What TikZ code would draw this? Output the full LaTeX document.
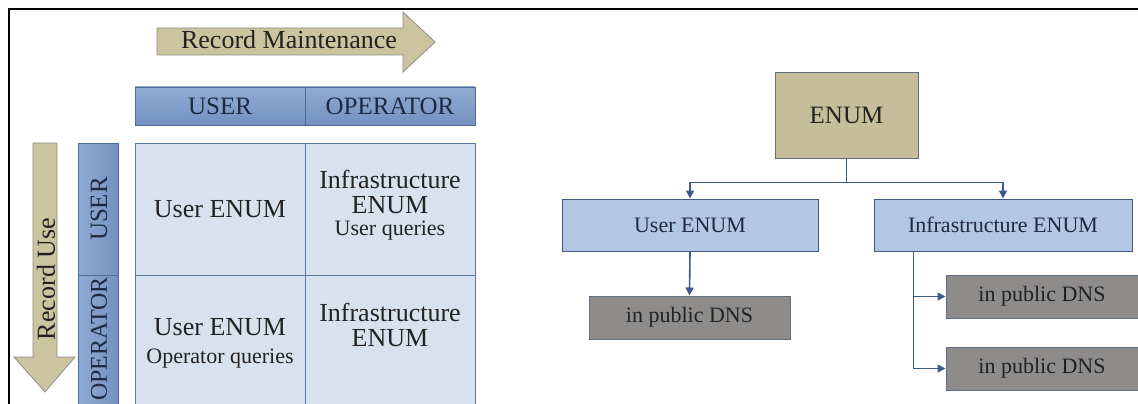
\documentclass[tikz,border=0pt]{standalone}
\usepackage{fontspec}
\setmainfont{Liberation Serif}
\usetikzlibrary{arrows.meta,calc}

\definecolor{tanfill}{HTML}{CCC39F}
\definecolor{tanedge}{HTML}{8C8C8C}
\definecolor{enumfill}{HTML}{C6BE9A}
\definecolor{hdrtop}{HTML}{90ABD3}
\definecolor{hdrbot}{HTML}{7491C0}
\definecolor{hdredge}{HTML}{4E6C98}
\definecolor{cellfill}{HTML}{D8E2EF}
\definecolor{celledge}{HTML}{5B78A3}
\definecolor{boxblue}{HTML}{B2C7E2}
\definecolor{boxedge}{HTML}{3F5B82}
\definecolor{boxgray}{HTML}{8E8C8B}
\definecolor{grayedge}{HTML}{5F6E82}
\definecolor{link}{HTML}{3A5A8C}
\definecolor{inktext}{HTML}{222222}
\definecolor{hdrtext}{HTML}{1E2A40}

\tikzset{
  bigtext/.style={font=\fontsize{26}{25}\selectfont, text=inktext, align=center, inner sep=0pt},
  smalltext/.style={font=\fontsize{22}{22}\selectfont, text=inktext, align=center, inner sep=0pt},
  hdrcell/.style={draw=hdredge, line width=0.8pt, top color=hdrtop, bottom color=hdrbot,
    font=\fontsize{25}{25}\selectfont, text=hdrtext, inner sep=0pt},
  vhdrcell/.style={draw=hdredge, line width=0.8pt, left color=hdrtop, right color=hdrbot, inner sep=0pt},
  gridcell/.style={draw=celledge, line width=0.8pt, fill=cellfill, inner sep=0pt},
  tanarrow/.style={fill=tanfill, draw=tanedge, line width=0.8pt, line join=miter},
  enumbox/.style={draw=grayedge, line width=1pt, fill=enumfill, font=\fontsize{25}{25}\selectfont,
    text=inktext, inner sep=0pt},
  bluebox/.style={draw=boxedge, line width=1pt, fill=boxblue, font=\fontsize{22}{22}\selectfont,
    text=hdrtext, inner sep=0pt},
  graybox/.style={draw=grayedge, line width=1pt, fill=boxgray, font=\fontsize{22}{22}\selectfont,
    text=inktext, inner sep=0pt},
  link/.style={draw=link, line width=1.6pt},
  linkarrow/.style={link, -{Triangle[length=8pt,width=8pt]}},
}

\begin{document}
\begin{tikzpicture}[x=1pt,y=-1pt]
\useasboundingbox (0,0) rectangle (1138,404);
\clip (0,0) rectangle (1138,404);
\fill[white] (0,0) rectangle (1138,404);

% frame edges
\draw[black, line width=2pt] (9,404) -- (9,9) -- (1140,9);

% ---------- left: maintenance / use matrix ----------
% horizontal "Record Maintenance" arrow
\draw[tanarrow] (157,28) -- (403,28) -- (403,12) -- (435,42) -- (403,72) -- (403,55) -- (157,55) -- cycle;
\node[font=\fontsize{26}{26}\selectfont, text=inktext, inner sep=0pt] (maint) at (289,40) {Record Maintenance};

% vertical "Record Use" arrow
\draw[tanarrow] (33,143) -- (57,143) -- (57,357) -- (75,357) -- (45,392) -- (14,357) -- (33,357) -- cycle;
\node[font=\fontsize{26}{26}\selectfont, text=inktext, inner sep=0pt, rotate=90] (use) at (46,279) {Record Use};

% column headers
\node[hdrcell, minimum width=170pt, minimum height=38pt] (hu) at (220,106) {USER};
\node[hdrcell, minimum width=170pt, minimum height=38pt] (ho) at (390,106) {OPERATOR};

% row headers
\node[vhdrcell, minimum width=40pt, minimum height=132pt] (ru) at (98,209) {};
\node[vhdrcell, minimum width=40pt, minimum height=140pt] (ro) at (98,345) {};
\node[font=\fontsize{25}{25}\selectfont, text=hdrtext, inner sep=0pt, rotate=90] (rut) at (99,209) {USER};
\node[font=\fontsize{24}{24}\selectfont, text=hdrtext, inner sep=0pt, rotate=90] (rot) at (99,339) {OPERATOR};

% grid cells
\node[gridcell, minimum width=170pt, minimum height=132pt] (c11) at (220,209) {};
\node[gridcell, minimum width=170pt, minimum height=132pt] (c12) at (390,209) {};
\node[gridcell, minimum width=170pt, minimum height=140pt] (c21) at (220,345) {};
\node[gridcell, minimum width=170pt, minimum height=140pt] (c22) at (390,345) {};

\node[bigtext] (t11) at (220,209) {User ENUM};
\node[bigtext, text depth=0pt, anchor=south] (t12) at (390,214) {Infrastructure\\ENUM};
\node[smalltext, anchor=north] (q12) at (390,221) {User queries};
\node[bigtext] (t21) at (220,327) {User ENUM};
\node[smalltext] (q21) at (220,359) {Operator queries};
\node[bigtext] (t22) at (390,325) {Infrastructure\\ENUM};

% ---------- right: ENUM tree ----------
\node[enumbox, minimum width=143pt, minimum height=85pt] (enum) at (846.5,115.5) {ENUM};
\node[bluebox, minimum width=256pt, minimum height=52pt] (uenum) at (690,225) {User ENUM};
\node[bluebox, minimum width=258pt, minimum height=52pt] (ienum) at (1003,225) {Infrastructure ENUM};
\node[graybox, minimum width=201pt, minimum height=43pt] (udns) at (689.5,317.5) {in public DNS};
\node[graybox, minimum width=192pt, minimum height=43pt] (idns1) at (1042,296.5) {in public DNS};
\node[graybox, minimum width=192pt, minimum height=43pt] (idns2) at (1042,368.5) {in public DNS};

\coordinate (split) at ($(enum.south)+(0,24)$);
\draw[link] (enum.south) -- (split);
\draw[linkarrow] (split) -| (uenum.north);
\draw[linkarrow] (split) -| (ienum.north);
\draw[linkarrow] (uenum.south) -- (udns.north);
\coordinate (branch) at ($(ienum.south west)+(40,0)$);
\draw[linkarrow] (branch) |- (idns1.west);
\draw[linkarrow] (branch) |- (idns2.west);
\end{tikzpicture}
\end{document}
